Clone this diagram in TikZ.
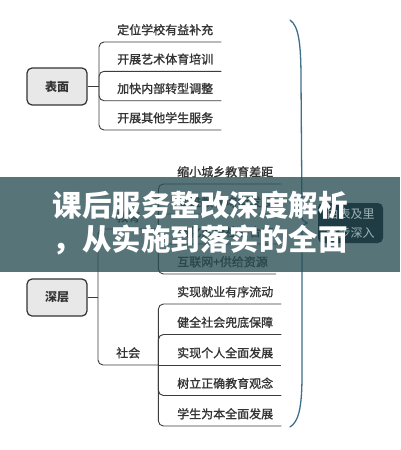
\documentclass[tikz,border=0pt]{standalone}
\usepackage{fontspec}
\newfontfamily\cjk{Noto Sans CJK SC}
\newfontfamily\cjkm[FakeBold=1.2]{Noto Sans CJK SC}
\definecolor{txt}{HTML}{333333}
\definecolor{ln}{HTML}{3C3C3C}
\definecolor{bracecol}{RGB}{62,112,136}
\definecolor{bannercol}{RGB}{40,78,84}
\definecolor{sumfill}{RGB}{31,60,68}
\definecolor{sumtext}{RGB}{160,180,183}
\definecolor{boxfill}{RGB}{232,232,232}
\begin{document}
\begin{tikzpicture}[x=1pt,y=-1pt,
  box/.style={draw=txt, line width=1.2pt, fill=boxfill, rounded corners=5pt,
    minimum width=60pt, minimum height=37pt, inner sep=0pt,
    font=\cjk\bfseries\fontsize{12}{14}\selectfont, text=txt},
  item/.style={inner xsep=0pt, inner ysep=0pt, minimum height=24pt, anchor=south west,
    font=\cjkm\fontsize{12}{14}\selectfont, text=txt},
  conn/.style={draw=ln, line width=0.9pt},
  elbow/.style={conn, rounded corners=5pt},
  sumbox/.style={fill=sumfill, rounded corners=5pt, minimum width=65pt, minimum height=40pt,
    inner sep=0pt, align=center, text=sumtext, font=\cjk\fontsize{12}{19}\selectfont},
  titletext/.style={text=white, inner sep=0pt, font=\cjk\bfseries\fontsize{29.5}{32}\selectfont}
]
\useasboundingbox (0,0) rectangle (400,450);
\fill[white] (0,0) rectangle (400,450);

% --- surface group
\node[box] (biao) at (57,86.5) {表面};
\node[item] (a1) at (117,42) {定位学校有益补充};
\node[item] (a2) at (117,71.3) {开展艺术体育培训};
\node[item] (a3) at (117,100.7) {加快内部转型调整};
\node[item] (a4) at (117,130) {开展其他学生服务};
\coordinate (ja) at (99,86.5);
\draw[conn] (biao.east) -- (ja);
\foreach \n in {a1,a2,a3,a4} \draw[elbow] (ja) |- ([xshift=8pt]\n.south east);

% --- deep group
\node[box] (shen) at (57,297.5) {深层};
\node[item] (jy) at (116,229) {教育};
\node[item] (sh) at (116,365) {社会};
\coordinate (jb) at (98,297.5);
\draw[conn] (shen.east) -- (jb);
\coordinate (je) at ([xshift=18pt]jy.south east);
\coordinate (se) at ([xshift=18pt]sh.south east);
\draw[elbow] (jb) |- (je);
\draw[elbow] (jb) |- (se);

\node[item] (b1) at (177,184) {缩小城乡教育差距};
\node[item] (b2) at (177,214) {促进教育均衡发展};
\node[item] (b3) at (177,244) {强化家校社会合作};
\node[item] (b4) at (177,274) {互联网+供给资源};
\foreach \n in {b1,b2,b3,b4} \draw[elbow] (je) |- ([xshift=8pt]\n.south east);

\node[item] (c1) at (177,304) {实现就业有序流动};
\node[item] (c2) at (177,334.5) {健全社会兜底保障};
\node[item] (c3) at (177,365) {实现个人全面发展};
\node[item] (c4) at (177,395.5) {树立正确教育观念};
\node[item] (c5) at (177,426) {学生为本全面发展};
\foreach \n in {c1,c2,c4,c5} \draw[elbow] (se) |- ([xshift=8pt]\n.south east);
\draw[conn] (se) -- ([xshift=8pt]c3.south east);

% --- summary brace
\coordinate (brT) at (290,20);
\coordinate (brB) at (290,427);
\coordinate (brTip) at (307,223);
\draw[draw=bracecol, line width=1.3pt, line cap=round]
  (brT) .. controls (299,26) and (301,45) .. (301,80)
  -- (302,214) .. controls (302,220) .. (brTip)
  .. controls (302,226) .. (302,232)
  -- (302,375) .. controls (302,410) and (298,422) .. (brB);

% --- banner
\fill[bannercol, fill opacity=0.78] (0,177) rectangle (400,272);

\node[sumbox] (sum) at (350.5,223) {由表及里\\逐步深入};

\node[titletext] (t1) at (200,205) {课后服务整改深度解析};
\node[titletext] (t2) at (200,240) {，从实施到落实的全面};
\end{tikzpicture}
\end{document}
